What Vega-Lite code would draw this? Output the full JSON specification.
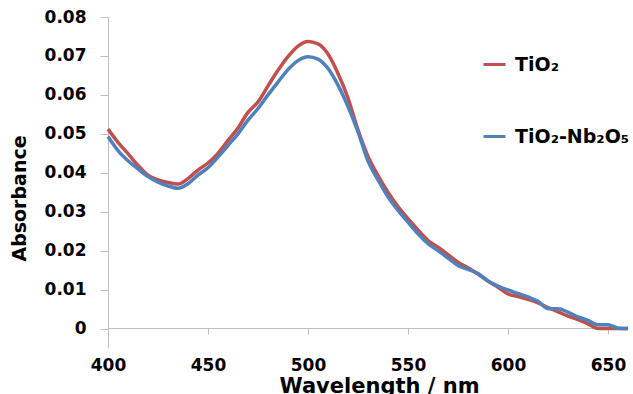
{
  "$schema": "https://vega.github.io/schema/vega-lite/v6.json",
  "autosize": "none",
  "width": 520,
  "height": 331,
  "padding": {"left": 108, "top": 17, "right": 5, "bottom": 46},
  "background": "white",
  "config": {
    "view": {"stroke": null},
    "font": "DejaVu Sans"
  },
  "data": {
    "values": [
      {"wl": 400, "abs": 0.0512, "s": "TiO₂"},
      {"wl": 405, "abs": 0.0478, "s": "TiO₂"},
      {"wl": 410, "abs": 0.0449, "s": "TiO₂"},
      {"wl": 415, "abs": 0.0419, "s": "TiO₂"},
      {"wl": 420, "abs": 0.0394, "s": "TiO₂"},
      {"wl": 425, "abs": 0.0382, "s": "TiO₂"},
      {"wl": 430, "abs": 0.0375, "s": "TiO₂"},
      {"wl": 435, "abs": 0.0371, "s": "TiO₂"},
      {"wl": 440, "abs": 0.0385, "s": "TiO₂"},
      {"wl": 445, "abs": 0.0407, "s": "TiO₂"},
      {"wl": 450, "abs": 0.0425, "s": "TiO₂"},
      {"wl": 455, "abs": 0.0450, "s": "TiO₂"},
      {"wl": 460, "abs": 0.0483, "s": "TiO₂"},
      {"wl": 465, "abs": 0.0515, "s": "TiO₂"},
      {"wl": 470, "abs": 0.0555, "s": "TiO₂"},
      {"wl": 475, "abs": 0.0582, "s": "TiO₂"},
      {"wl": 480, "abs": 0.0623, "s": "TiO₂"},
      {"wl": 485, "abs": 0.0663, "s": "TiO₂"},
      {"wl": 490, "abs": 0.0698, "s": "TiO₂"},
      {"wl": 495, "abs": 0.0725, "s": "TiO₂"},
      {"wl": 500, "abs": 0.0737, "s": "TiO₂"},
      {"wl": 505, "abs": 0.0731, "s": "TiO₂"},
      {"wl": 510, "abs": 0.0705, "s": "TiO₂"},
      {"wl": 515, "abs": 0.0655, "s": "TiO₂"},
      {"wl": 520, "abs": 0.0592, "s": "TiO₂"},
      {"wl": 525, "abs": 0.0510, "s": "TiO₂"},
      {"wl": 530, "abs": 0.0442, "s": "TiO₂"},
      {"wl": 535, "abs": 0.0393, "s": "TiO₂"},
      {"wl": 540, "abs": 0.0350, "s": "TiO₂"},
      {"wl": 545, "abs": 0.0313, "s": "TiO₂"},
      {"wl": 550, "abs": 0.0282, "s": "TiO₂"},
      {"wl": 555, "abs": 0.0253, "s": "TiO₂"},
      {"wl": 560, "abs": 0.0226, "s": "TiO₂"},
      {"wl": 565, "abs": 0.0209, "s": "TiO₂"},
      {"wl": 570, "abs": 0.0190, "s": "TiO₂"},
      {"wl": 575, "abs": 0.0170, "s": "TiO₂"},
      {"wl": 580, "abs": 0.0156, "s": "TiO₂"},
      {"wl": 585, "abs": 0.0140, "s": "TiO₂"},
      {"wl": 590, "abs": 0.0122, "s": "TiO₂"},
      {"wl": 595, "abs": 0.0106, "s": "TiO₂"},
      {"wl": 600, "abs": 0.0089, "s": "TiO₂"},
      {"wl": 605, "abs": 0.0082, "s": "TiO₂"},
      {"wl": 610, "abs": 0.0075, "s": "TiO₂"},
      {"wl": 615, "abs": 0.0066, "s": "TiO₂"},
      {"wl": 620, "abs": 0.0054, "s": "TiO₂"},
      {"wl": 625, "abs": 0.0043, "s": "TiO₂"},
      {"wl": 630, "abs": 0.0032, "s": "TiO₂"},
      {"wl": 635, "abs": 0.0023, "s": "TiO₂"},
      {"wl": 640, "abs": 0.0012, "s": "TiO₂"},
      {"wl": 645, "abs": 0.0000, "s": "TiO₂"},
      {"wl": 650, "abs": 0.0000, "s": "TiO₂"},
      {"wl": 655, "abs": 0.0000, "s": "TiO₂"},
      {"wl": 660, "abs": 0.0000, "s": "TiO₂"},
      {"wl": 400, "abs": 0.0493, "s": "TiO₂-Nb₂O₅"},
      {"wl": 405, "abs": 0.0457, "s": "TiO₂-Nb₂O₅"},
      {"wl": 410, "abs": 0.0431, "s": "TiO₂-Nb₂O₅"},
      {"wl": 415, "abs": 0.0410, "s": "TiO₂-Nb₂O₅"},
      {"wl": 420, "abs": 0.0390, "s": "TiO₂-Nb₂O₅"},
      {"wl": 425, "abs": 0.0376, "s": "TiO₂-Nb₂O₅"},
      {"wl": 430, "abs": 0.0366, "s": "TiO₂-Nb₂O₅"},
      {"wl": 435, "abs": 0.0360, "s": "TiO₂-Nb₂O₅"},
      {"wl": 440, "abs": 0.0372, "s": "TiO₂-Nb₂O₅"},
      {"wl": 445, "abs": 0.0394, "s": "TiO₂-Nb₂O₅"},
      {"wl": 450, "abs": 0.0413, "s": "TiO₂-Nb₂O₅"},
      {"wl": 455, "abs": 0.0440, "s": "TiO₂-Nb₂O₅"},
      {"wl": 460, "abs": 0.0470, "s": "TiO₂-Nb₂O₅"},
      {"wl": 465, "abs": 0.0500, "s": "TiO₂-Nb₂O₅"},
      {"wl": 470, "abs": 0.0535, "s": "TiO₂-Nb₂O₅"},
      {"wl": 475, "abs": 0.0565, "s": "TiO₂-Nb₂O₅"},
      {"wl": 480, "abs": 0.0600, "s": "TiO₂-Nb₂O₅"},
      {"wl": 485, "abs": 0.0633, "s": "TiO₂-Nb₂O₅"},
      {"wl": 490, "abs": 0.0665, "s": "TiO₂-Nb₂O₅"},
      {"wl": 495, "abs": 0.0688, "s": "TiO₂-Nb₂O₅"},
      {"wl": 500, "abs": 0.0698, "s": "TiO₂-Nb₂O₅"},
      {"wl": 505, "abs": 0.0692, "s": "TiO₂-Nb₂O₅"},
      {"wl": 510, "abs": 0.0668, "s": "TiO₂-Nb₂O₅"},
      {"wl": 515, "abs": 0.0625, "s": "TiO₂-Nb₂O₅"},
      {"wl": 520, "abs": 0.0570, "s": "TiO₂-Nb₂O₅"},
      {"wl": 525, "abs": 0.0505, "s": "TiO₂-Nb₂O₅"},
      {"wl": 530, "abs": 0.0430, "s": "TiO₂-Nb₂O₅"},
      {"wl": 535, "abs": 0.0382, "s": "TiO₂-Nb₂O₅"},
      {"wl": 540, "abs": 0.0338, "s": "TiO₂-Nb₂O₅"},
      {"wl": 545, "abs": 0.0303, "s": "TiO₂-Nb₂O₅"},
      {"wl": 550, "abs": 0.0273, "s": "TiO₂-Nb₂O₅"},
      {"wl": 555, "abs": 0.0243, "s": "TiO₂-Nb₂O₅"},
      {"wl": 560, "abs": 0.0218, "s": "TiO₂-Nb₂O₅"},
      {"wl": 565, "abs": 0.0200, "s": "TiO₂-Nb₂O₅"},
      {"wl": 570, "abs": 0.0181, "s": "TiO₂-Nb₂O₅"},
      {"wl": 575, "abs": 0.0162, "s": "TiO₂-Nb₂O₅"},
      {"wl": 580, "abs": 0.0152, "s": "TiO₂-Nb₂O₅"},
      {"wl": 585, "abs": 0.0141, "s": "TiO₂-Nb₂O₅"},
      {"wl": 590, "abs": 0.0122, "s": "TiO₂-Nb₂O₅"},
      {"wl": 595, "abs": 0.0109, "s": "TiO₂-Nb₂O₅"},
      {"wl": 600, "abs": 0.0099, "s": "TiO₂-Nb₂O₅"},
      {"wl": 605, "abs": 0.0090, "s": "TiO₂-Nb₂O₅"},
      {"wl": 610, "abs": 0.0081, "s": "TiO₂-Nb₂O₅"},
      {"wl": 615, "abs": 0.0070, "s": "TiO₂-Nb₂O₅"},
      {"wl": 620, "abs": 0.0051, "s": "TiO₂-Nb₂O₅"},
      {"wl": 625, "abs": 0.0051, "s": "TiO₂-Nb₂O₅"},
      {"wl": 630, "abs": 0.0042, "s": "TiO₂-Nb₂O₅"},
      {"wl": 635, "abs": 0.0030, "s": "TiO₂-Nb₂O₅"},
      {"wl": 640, "abs": 0.0021, "s": "TiO₂-Nb₂O₅"},
      {"wl": 645, "abs": 0.0010, "s": "TiO₂-Nb₂O₅"},
      {"wl": 650, "abs": 0.0010, "s": "TiO₂-Nb₂O₅"},
      {"wl": 655, "abs": 0.0001, "s": "TiO₂-Nb₂O₅"},
      {"wl": 660, "abs": 0.0000, "s": "TiO₂-Nb₂O₅"}
    ]
  },
  "mark": {"type": "line", "strokeWidth": 3.5, "strokeJoin": "round", "strokeCap": "butt", "interpolate": "monotone"},
  "encoding": {
    "x": {
      "field": "wl",
      "type": "quantitative",
      "scale": {"domain": [400, 660], "nice": false, "zero": false},
      "axis": {
        "orient": "bottom",
        "offset": -20,
        "values": [400, 450, 500, 550, 600, 650],
        "grid": false,
        "domainColor": "#BFBFBF",
        "domainWidth": 1,
        "tickColor": "#BFBFBF",
        "tickSize": 6,
        "labelPadding": 23,
        "labelFont": "DejaVu Sans",
        "labelFontWeight": "bold",
        "labelFontSize": 17,
        "labelColor": "#000000",
        "labelFlush": false,
        "labelOverlap": false,
        "title": "Wavelength / nm",
        "titleFont": "DejaVu Sans",
        "titleFontWeight": "bold",
        "titleFontSize": 21,
        "titleColor": "#000000",
        "titleX": 271,
        "titlePadding": 2
      }
    },
    "y": {
      "field": "abs",
      "type": "quantitative",
      "scale": {"domain": [-0.005, 0.08], "nice": false, "zero": false},
      "axis": {
        "values": [0, 0.01, 0.02, 0.03, 0.04, 0.05, 0.06, 0.07, 0.08],
        "labelExpr": "datum.value == 0 ? '0' : format(datum.value, '.2f')",
        "grid": false,
        "domainColor": "#BFBFBF",
        "domainWidth": 1,
        "tickColor": "#BFBFBF",
        "tickSize": 8,
        "labelPadding": 14,
        "labelFont": "DejaVu Sans",
        "labelFontWeight": "bold",
        "labelFontSize": 17,
        "labelColor": "#000000",
        "labelFlush": false,
        "labelOverlap": false,
        "title": "Absorbance",
        "titleFont": "DejaVu Sans",
        "titleFontWeight": "bold",
        "titleFontSize": 19,
        "titleColor": "#000000",
        "titleAngle": 270,
        "titleAlign": "center",
        "titleBaseline": "middle",
        "titleX": -89,
        "titleY": 181
      }
    },
    "color": {
      "field": "s",
      "type": "nominal",
      "scale": {"domain": ["TiO₂", "TiO₂-Nb₂O₅"], "range": ["#C0504D", "#4F81BD"]},
      "legend": {
        "title": null,
        "orient": "none",
        "legendX": 374,
        "legendY": 35,
        "padding": 0,
        "symbolType": "stroke",
        "symbolSize": 484,
        "symbolStrokeWidth": 3,
        "rowPadding": 49,
        "labelOffset": 8,
        "labelFont": "DejaVu Sans",
        "labelFontWeight": "bold",
        "labelFontSize": 19,
        "labelColor": "#000000",
        "labelLimit": 300
      }
    }
  }
}
